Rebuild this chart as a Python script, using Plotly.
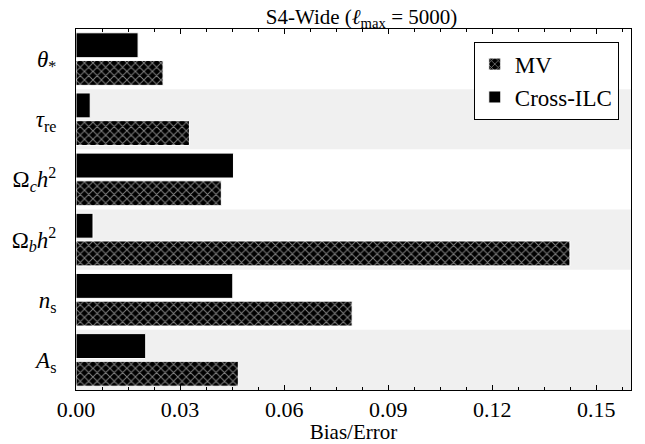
import plotly.graph_objects as go

categories = ["theta", "tau", "omc", "omb", "ns", "As"]
tick_labels = ["<i>θ</i><sub>*</sub>", "<i>τ</i><sub>re</sub>", "Ω<sub><i>c</i></sub><i>h</i><sup>2</sup>",
               "Ω<sub><i>b</i></sub><i>h</i><sup>2</sup>", "<i>n</i><sub>s</sub>", "<i>A</i><sub>s</sub>"]
cross_ilc = [0.0179, 0.0041, 0.0454, 0.0049, 0.0452, 0.0201]
mv = [0.0251, 0.0327, 0.0419, 0.1424, 0.0796, 0.0468]
x_ticks = [0.00, 0.03, 0.06, 0.09, 0.12, 0.15]

FONT = "Liberation Serif"

fig = go.Figure()
fig.add_trace(go.Bar(
    y=categories, x=cross_ilc, orientation="h", name="Cross-ILC",
    marker=dict(color="black", line=dict(color="white", width=1)),
    legendrank=2,
))
fig.add_trace(go.Bar(
    y=categories, x=mv, orientation="h", name="MV",
    marker=dict(color="black", line=dict(color="white", width=1),
                pattern=dict(shape="x", bgcolor="black", fgcolor="white", size=6, solidity=0.3)),
    legendrank=1,
))

for i, c in enumerate(categories):
    if i % 2 == 1:
        fig.add_shape(type="rect", xref="paper", yref="y", x0=0, x1=1, y0=i - 0.5, y1=i + 0.5,
                      fillcolor="#f0f0f0", line=dict(width=0), layer="below")

fig.update_layout(
    width=637, height=436,
    margin=dict(l=68, r=14, t=21, b=54, autoexpand=False),
    plot_bgcolor="white", paper_bgcolor="white",
    barmode="group", bargap=0.08, bargroupgap=0.1,
    font=dict(family=FONT, size=22, color="black"),
    title=dict(text="S4-Wide (<i>ℓ</i><sub>max</sub> = 5000)", x=0.555, xanchor="center",
               yref="container", y=1.0, yanchor="top", pad=dict(t=1),
               font=dict(family=FONT, size=21), automargin=False),
    legend=dict(x=0.978, xanchor="right", y=0.965, yanchor="top", bordercolor="black", borderwidth=1,
                bgcolor="white", font=dict(family=FONT, size=23), tracegroupgap=2),
    xaxis=dict(range=[0, 0.16], tickvals=x_ticks, ticktext=[f"{v:.2f}" for v in x_ticks],
               ticks="inside", ticklen=5, tickcolor="black", mirror="allticks", showline=True,
               linecolor="black", linewidth=1, showgrid=False, zeroline=False, automargin=False,
               tickfont=dict(family=FONT, size=22),
               minor=dict(dtick=0.0075, ticks="inside", ticklen=3, tickcolor="black"),
               title=dict(text="Bias/Error", font=dict(family=FONT, size=21), standoff=3)),
    yaxis=dict(categoryorder="array", categoryarray=categories, autorange="reversed",
               tickvals=categories, ticktext=tick_labels, ticks="", showline=True, mirror=True,
               linecolor="black", linewidth=1, showgrid=False, automargin=False,
               tickfont=dict(family=FONT, size=23), ticklabelstandoff=14),
)

fig.write_html("out.html")
